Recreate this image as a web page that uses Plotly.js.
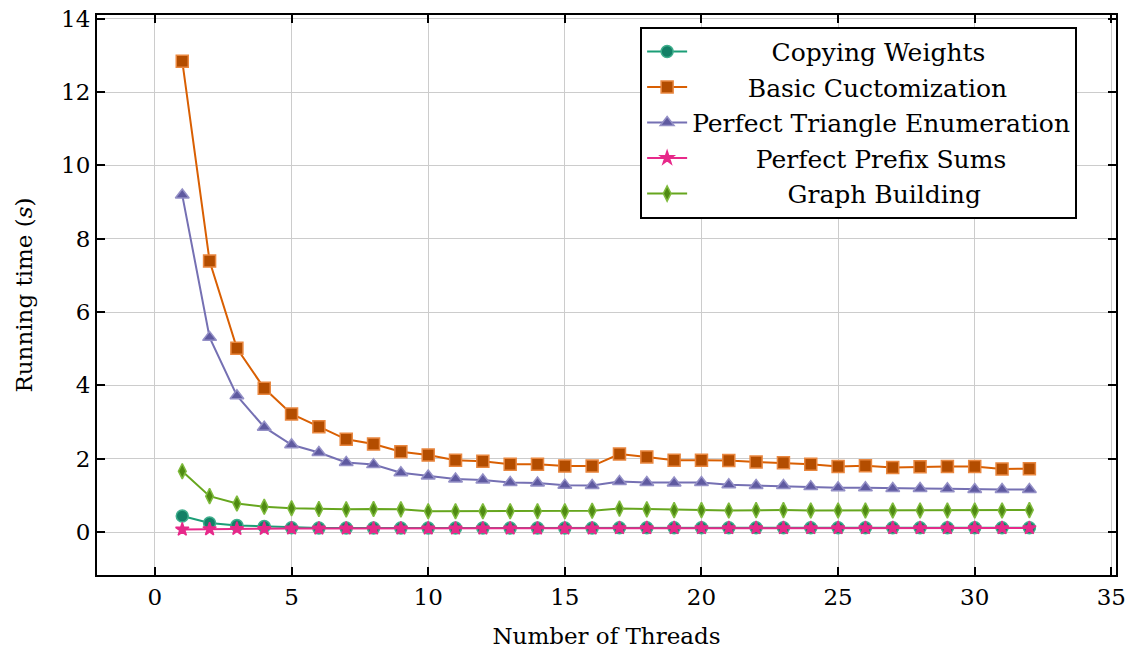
<!DOCTYPE html>
<html>
<head>
<meta charset="utf-8">
<script src="https://cdn.plot.ly/plotly-3.0.1.min.js"></script>
<style>html,body{margin:0;padding:0;background:#fff;}#chart{width:1131px;height:651px;}</style>
</head>
<body>
<div id="chart"></div>
<script>
const threads = [1,2,3,4,5,6,7,8,9,10,11,12,13,14,15,16,17,18,19,20,21,22,23,24,25,26,27,28,29,30,31,32];

const copyingWeights = [0.44,0.25,0.18,0.15,0.12,0.11,0.11,0.11,0.11,0.11,0.11,0.11,0.11,0.11,0.11,0.11,0.12,0.12,0.12,0.12,0.12,0.12,0.12,0.12,0.12,0.12,0.12,0.12,0.12,0.12,0.12,0.12];
const basicCuctomization = [12.84,7.39,5.01,3.92,3.22,2.87,2.53,2.40,2.19,2.10,1.96,1.93,1.85,1.85,1.80,1.80,2.13,2.05,1.96,1.96,1.95,1.91,1.89,1.85,1.79,1.81,1.76,1.78,1.79,1.79,1.72,1.73];
const triangleEnum = [9.19,5.31,3.72,2.86,2.38,2.17,1.90,1.84,1.62,1.53,1.45,1.42,1.35,1.34,1.28,1.27,1.38,1.35,1.34,1.35,1.29,1.27,1.27,1.24,1.21,1.21,1.19,1.19,1.18,1.16,1.16,1.16];
const prefixSums = [0.07,0.08,0.09,0.09,0.10,0.10,0.10,0.10,0.10,0.10,0.10,0.10,0.10,0.10,0.10,0.10,0.11,0.11,0.11,0.11,0.11,0.11,0.11,0.11,0.11,0.11,0.11,0.11,0.11,0.11,0.11,0.11];
const graphBuilding = [1.66,0.98,0.78,0.69,0.65,0.63,0.62,0.63,0.62,0.57,0.57,0.57,0.57,0.57,0.57,0.58,0.64,0.62,0.60,0.60,0.59,0.60,0.60,0.59,0.59,0.59,0.59,0.59,0.59,0.59,0.59,0.60];

const seriesNames = ["Copying Weights","Basic Cuctomization","Perfect Triangle Enumeration","Perfect Prefix Sums","Graph Building"];
const xTickVals = [0,5,10,15,20,25,30,35];
const yTickVals = [0,2,4,6,8,10,12,14];

const FONT = "DejaVu Serif";
const LEGEND_SIZE = 25;

function padNames(names){
  const c = document.createElement('canvas').getContext('2d');
  c.font = LEGEND_SIZE + 'px "' + FONT + '"';
  const widths = names.map(n => c.measureText(n).width);
  const maxW = Math.max(...widths);
  const sp = c.measureText('\u00A0').width || 6;
  return names.map((n,i) => '\u00A0'.repeat(Math.round((maxW - widths[i]) / 2 / sp)) + n);
}
const shownNames = padNames(seriesNames);

const styles = [
  {line:'#1b9e77', fill:'#138066', symbol:'circle', size:12, edge:'#3fae8c'},
  {line:'#d95f02', fill:'#b34d00', symbol:'square', size:12, edge:'#e9873f'},
  {line:'#7570b3', fill:'#5f5aa0', symbol:'triangle-up', size:12, edge:'#9490c6'},
  {line:'#e7298a', fill:'#e7298a', symbol:'star', size:10, edge:'#e7298a'},
  {line:'#66a61e', fill:'#4f8a12', symbol:'diamond-tall', size:11, edge:'#7fbb3d'}
];
const ys = [copyingWeights, basicCuctomization, triangleEnum, prefixSums, graphBuilding];

const traces = ys.map((y,i) => ({
  x: threads, y: y, name: shownNames[i], type:'scatter', mode:'lines+markers',
  line:{color:styles[i].line, width:2},
  marker:{symbol:styles[i].symbol, size:styles[i].size, color:styles[i].fill,
          line:{color:styles[i].edge, width:1.5}}
}));

function axis(extra){
  return Object.assign({
    showline:true, linecolor:'#000', linewidth:2, mirror:'allticks',
    ticks:'inside', ticklen:8, tickwidth:2, tickcolor:'#000',
    showgrid:true, gridcolor:'#cccccc', gridwidth:1, zeroline:false,
    tickfont:{family:FONT, size:23, color:'#000'}
  }, extra);
}

const layout = {
  width:1131, height:651,
  margin:{l:97, r:15, t:15, b:76},
  paper_bgcolor:'#fff', plot_bgcolor:'#fff',
  font:{family:FONT, size:23, color:'#000'},
  xaxis: axis({
    range:[-2.12, 35.17], tickvals:xTickVals, ticktext:xTickVals.map(String),
    title:{text:'Number of Threads', font:{family:FONT, size:23, color:'#000'}, standoff:19}
  }),
  yaxis: axis({
    range:[-1.17, 14.1], tickvals:yTickVals, ticktext:yTickVals.map(String),
    title:{text:'Running time (<i>s</i>)', font:{family:FONT, size:23, color:'#000'}, standoff:22}
  }),
  legend:{
    x:0.533, y:0.979, xanchor:'left', yanchor:'top',
    bgcolor:'#fff', bordercolor:'#000', borderwidth:2,
    font:{family:FONT, size:LEGEND_SIZE, color:'#000'},
    itemwidth:40, tracegroupgap:0
  },
  showlegend:true
};

Plotly.newPlot('chart', traces, layout, {staticPlot:true, displayModeBar:false});
</script>
</body>
</html>
